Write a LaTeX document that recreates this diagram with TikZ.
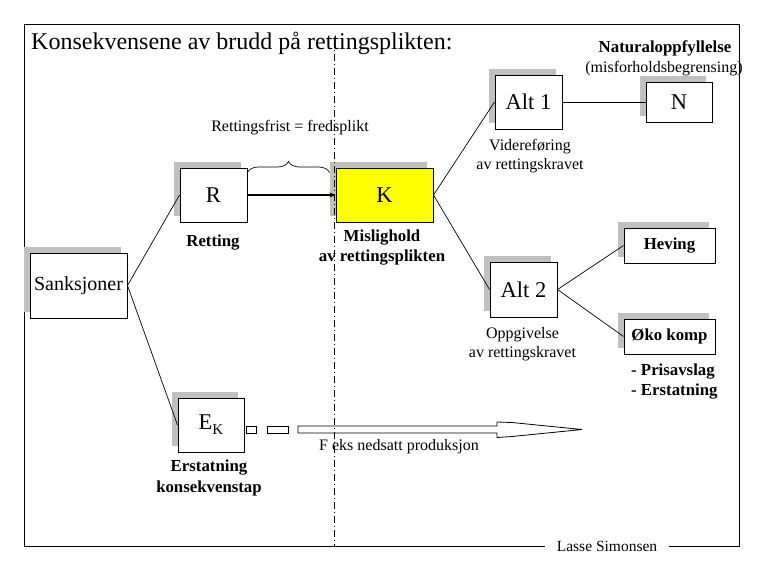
\documentclass[tikz,border=0pt]{standalone}
\usepackage{fontspec}
\setmainfont{Liberation Serif}
\usetikzlibrary{shadows,decorations.pathreplacing,arrows.meta}
\definecolor{shadowgray}{RGB}{192,192,192}
\definecolor{kyellow}{RGB}{255,255,0}
\begin{document}
\begin{tikzpicture}[x=1pt,y=-1pt,
  box/.style={draw=black, line width=1pt, fill=white, inner sep=0pt,
    general shadow={fill=shadowgray, shadow xshift=-6pt, shadow yshift=6pt}},
  bigtxt/.style={font=\fontsize{22.5}{26}\selectfont},
  conn/.style={line width=0.7pt},
  lbl/.style={font=\fontsize{16}{19}\selectfont, align=center, inner sep=0pt},
  blbl/.style={font=\fontsize{16.8}{20.5}\selectfont\bfseries, align=center, inner sep=0pt}]
\useasboundingbox (0,0) rectangle (765,570);

% frame with signature
\node[font=\fontsize{15.5}{18}\selectfont, inner xsep=12pt, inner ysep=0pt] (sig) at (607,546) {Lasse Simonsen};
\draw[line width=1pt] (sig.west) -| (24,24) -| (739,546) -- (sig.east);

% title
\node[anchor=base west, font=\fontsize{24}{28}\selectfont, inner sep=0pt] (title) at (31,49) {Konsekvensene av brudd på rettingsplikten:};

% boxes
\node[box, minimum width=97pt, minimum height=65pt, font=\fontsize{20}{24}\selectfont] (sank) at (78.5,285.5) {Sanksjoner};
\node[box, bigtxt, minimum width=67pt, minimum height=54pt] (R) at (213.5,195) {R};
\node[box, bigtxt, fill=kyellow, minimum width=97pt, minimum height=54pt] (K) at (384.5,195) {K};
\node[box, bigtxt, minimum width=67pt, minimum height=54pt] (alt1) at (528.5,102) {Alt 1};
\node[box, bigtxt, minimum width=66pt, minimum height=40pt] (N) at (679,102) {N};
\node[box, bigtxt, minimum width=67pt, minimum height=55pt] (alt2) at (523.5,289.5) {Alt 2};
\node[box, font=\fontsize{16.8}{20}\selectfont\bfseries, minimum width=91pt, minimum height=35pt] (hev) at (669.5,245.5) {Heving};
\node[box, font=\fontsize{16.8}{20}\selectfont\bfseries, minimum width=91pt, minimum height=35pt] (oko) at (669.5,336.5) {Øko komp};
\node[box, bigtxt, minimum width=66pt, minimum height=54pt] (ek) at (211,425) {E\raisebox{-5pt}{\fontsize{15}{15}\selectfont K}};

% labels
\node[lbl] (frist) at (290,128) {Rettingsfrist = fredsplikt};
\node[blbl] (lret) at (213,243) {Retting};
\node[blbl] (lmis) at (382,247.5) {Mislighold\\av rettingsplikten};
\node[lbl] (lvid) at (530,156.5) {Videreføring\\av rettingskravet};
\node[blbl] (lnat) at (665,48) {Naturaloppfyllelse};
\node[lbl] (lmisf) at (664,69) {(misforholdsbegrensing)};
\node[lbl] (lopp) at (522.5,344) {Oppgivelse\\av rettingskravet};
\node[blbl, align=left, anchor=west] (lpris) at (631,381.5) {- Prisavslag\\- Erstatning};
\node[blbl] (lers) at (209,478) {Erstatning\\konsekvenstap};
\node[lbl] (lfeks) at (399,447) {F eks nedsatt produksjon};

% brace
\draw[line width=0.7pt, decorate, decoration={brace, amplitude=11pt}]
  ([yshift=-5pt]R.north east) -- ([xshift=-6pt,yshift=-5pt]K.north west);

% connectors
\draw[conn] (sank.east) -- (R.west);
\draw[conn] (sank.east) -- (ek.west);
\draw[line width=1.8pt, -{Stealth[length=6pt,width=5pt]}] (R.east) -- (K.west);
\draw[conn] (K.east) -- (alt1.west);
\draw[conn] (K.east) -- (alt2.west);
\draw[conn] (alt1.east) -- (N.west);
\draw[conn] (alt2.east) -- (hev.west);
\draw[conn] (alt2.east) -- (oko.west);

% hollow dashed arrow
\draw[line width=0.8pt, fill=white] (246,426) rectangle (256,433);
\draw[line width=0.8pt, fill=white] (267,426) rectangle (288,433);
\draw[line width=0.8pt, fill=white] (298,426) -- (497,426) -- (497,422) -- (512,422.5)
  -- (582,429.5) -- (512,436.5) -- (497,437.5) -- (497,433) -- (298,433) -- cycle;

% dash-dot divider
\draw[line width=0.7pt, dash pattern=on 7pt off 3pt on 1pt off 3pt] (334,40) -- (334,546);
\end{tikzpicture}
\end{document}
